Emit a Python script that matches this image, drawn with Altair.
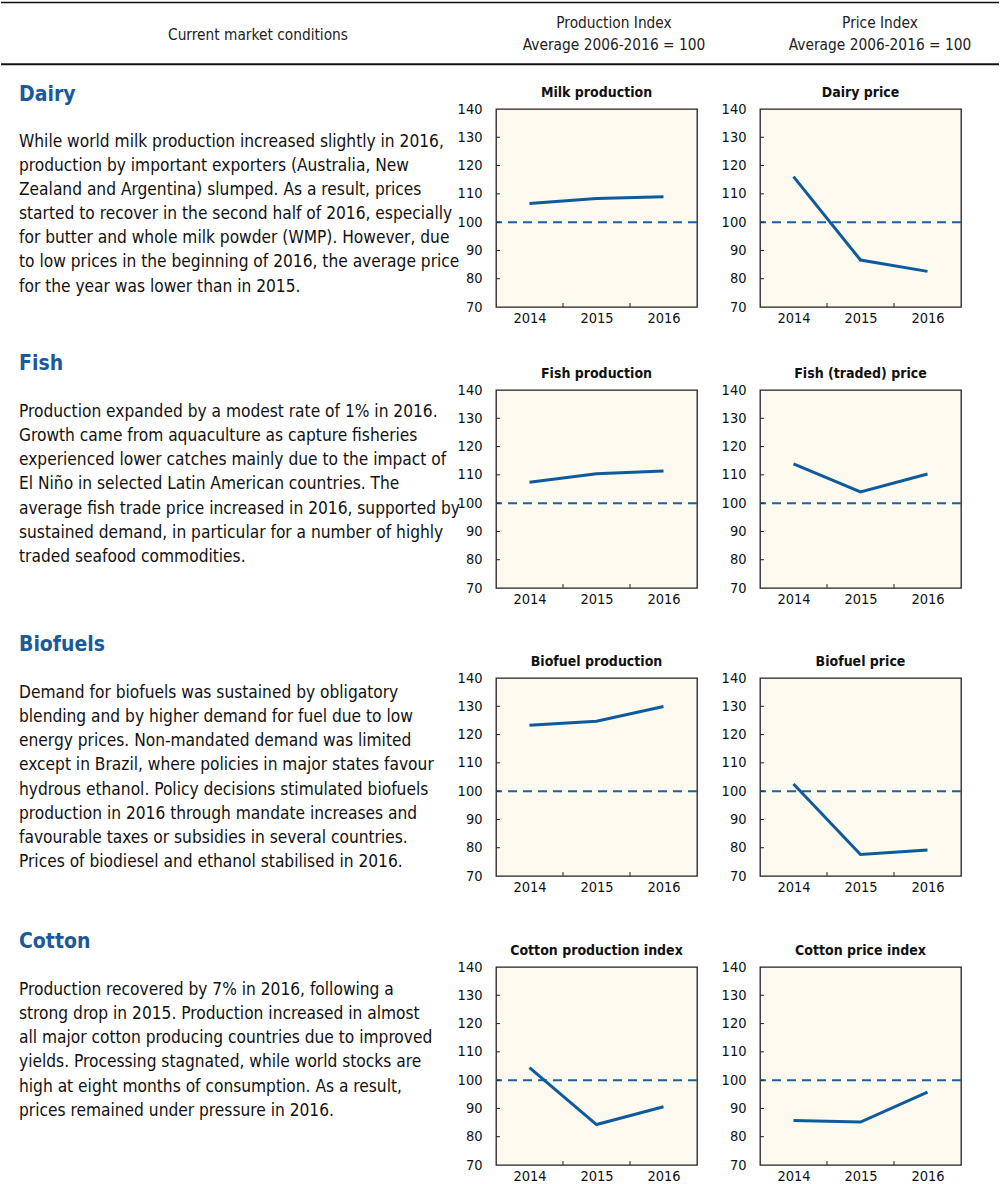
import altair as alt
import pandas as pd

# ---------------- data ----------------
years = [2014, 2015, 2016]
milk_production = [106.6, 108.4, 109.0]
dairy_price = [116.1, 86.6, 82.6]
fish_production = [107.4, 110.4, 111.4]
fish_price = [113.9, 104.0, 110.3]
biofuel_production = [123.3, 124.7, 129.9]
biofuel_price = [102.5, 77.6, 79.2]
cotton_production = [104.4, 84.3, 90.6]
cotton_price = [85.7, 85.2, 95.8]

y_ticks = [70, 80, 90, 100, 110, 120, 130, 140]
inner_y_ticks = [80, 90, 100, 110, 120, 130]
x_boundaries = [2014.5, 2015.5]
reference_level = [100]

header_left = "Current market conditions"
header_prod = "Production Index\nAverage 2006-2016 = 100"
header_price = "Price Index\nAverage 2006-2016 = 100"

sections = ["Dairy", "Fish", "Biofuels", "Cotton"]
prod_titles = ["Milk production", "Fish production", "Biofuel production", "Cotton production index"]
price_titles = ["Dairy price", "Fish (traded) price", "Biofuel price", "Cotton price index"]
prod_series = [milk_production, fish_production, biofuel_production, cotton_production]
price_series = [dairy_price, fish_price, biofuel_price, cotton_price]

paragraphs = [
    [
        "While world milk production increased slightly in 2016,",
        "production by important exporters (Australia, New",
        "Zealand and Argentina) slumped. As a result, prices",
        "started to recover in the second half of 2016, especially",
        "for butter and whole milk powder (WMP). However, due",
        "to low prices in the beginning of 2016, the average price",
        "for the year was lower than in 2015.",
    ],
    [
        "Production expanded by a modest rate of 1% in 2016.",
        "Growth came from aquaculture as capture fisheries",
        "experienced lower catches mainly due to the impact of",
        "El Niño in selected Latin American countries. The",
        "average fish trade price increased in 2016, supported by",
        "sustained demand, in particular for a number of highly",
        "traded seafood commodities.",
    ],
    [
        "Demand for biofuels was sustained by obligatory",
        "blending and by higher demand for fuel due to low",
        "energy prices. Non-mandated demand was limited",
        "except in Brazil, where policies in major states favour",
        "hydrous ethanol. Policy decisions stimulated biofuels",
        "production in 2016 through mandate increases and",
        "favourable taxes or subsidies in several countries.",
        "Prices of biodiesel and ethanol stabilised in 2016.",
    ],
    [
        "Production recovered by 7% in 2016, following a",
        "strong drop in 2015. Production increased in almost",
        "all major cotton producing countries due to improved",
        "yields. Processing stagnated, while world stocks are",
        "high at eight months of consumption. As a result,",
        "prices remained under pressure in 2016.",
    ],
]

# ---------------- layout / style ----------------
FONT = "DejaVu Sans Condensed, Liberation Sans Narrow, Roboto Condensed, sans-serif"
BLUE = "#1b5a99"
LINE = "#0f5a9c"
DASH = "#1f5f9d"
BG = "#fcf9ef"
INK = "#111111"

PW, PH = 201, 198
TEXT_W = 432
row_heights = [280.7, 288, 289, 198]
title_dy = [-8.3, -19.7, -26.7, -18.7]
para_dy = [37.7, 27, 20, 28]

x_enc = alt.X(
    "year:Q",
    scale=alt.Scale(domain=[2013.5, 2016.5], nice=False, zero=False),
    axis=alt.Axis(values=years, format="d", ticks=False, domain=False, grid=False,
                  labelFontSize=14.5, labelFont=FONT, labelColor=INK, labelPadding=4,
                  labelFlush=False, title=None),
)
y_enc = alt.Y(
    "value:Q",
    scale=alt.Scale(domain=[70, 140], nice=False, zero=False),
    axis=alt.Axis(values=y_ticks, ticks=False, domain=False, grid=False,
                  labelFontSize=14.5, labelFont=FONT, labelColor=INK, labelPadding=14,
                  title=None),
)


def line_panel(title, values):
    df = pd.DataFrame({"year": years, "value": values})
    ref = alt.Chart(pd.DataFrame({"value": reference_level})).mark_rule(
        color=DASH, strokeWidth=2, strokeDash=[9, 6]
    ).encode(y=y_enc)
    line = alt.Chart(df).mark_line(color=LINE, strokeWidth=3).encode(x=x_enc, y=y_enc)
    ytk = alt.Chart(pd.DataFrame({"value": inner_y_ticks})).mark_rule(
        color="#222222", strokeWidth=1
    ).encode(y=y_enc, x=alt.value(0), x2=alt.value(4))
    xtk = alt.Chart(pd.DataFrame({"year": x_boundaries})).mark_rule(
        color="#222222", strokeWidth=1
    ).encode(x=x_enc, y=alt.value(PH), y2=alt.value(PH - 4))
    return alt.layer(ref, line, ytk, xtk).properties(
        width=PW,
        height=PH,
        title=alt.TitleParams(title, font=FONT, fontSize=14, fontWeight="bold",
                              anchor="middle", offset=1, color=INK),
        view=alt.ViewBackground(fill=BG, stroke="#222222", strokeWidth=1.3),
    )


def text_panel(i):
    layers = []
    layers.append(
        alt.Chart(pd.DataFrame({"t": [sections[i]]})).mark_text(
            align="left", baseline="alphabetic", font=FONT, fontSize=21,
            fontWeight="bold", color=BLUE
        ).encode(x=alt.value(18), y=alt.value(title_dy[i]), text="t:N")
    )
    layers.append(
        alt.Chart(pd.DataFrame({"t": ["\n".join(paragraphs[i])]})).mark_text(
            align="left", baseline="alphabetic", font=FONT, fontSize=17.2,
            lineBreak="\n", lineHeight=24.15, color=INK
        ).encode(x=alt.value(18), y=alt.value(para_dy[i]), text="t:N")
    )
    if i == 0:
        one = pd.DataFrame({"t": [header_left]})
        layers.append(
            alt.Chart(pd.DataFrame({"k": [0]})).mark_rule(color=INK, strokeWidth=1.5)
            .encode(x=alt.value(0), x2=alt.value(998), y=alt.value(-106.6))
        )
        layers.append(
            alt.Chart(pd.DataFrame({"k": [0]})).mark_rule(color=INK, strokeWidth=2)
            .encode(x=alt.value(0), x2=alt.value(998), y=alt.value(-44.8))
        )
        layers.append(
            alt.Chart(one).mark_text(align="center", baseline="alphabetic", font=FONT,
                                     fontSize=15.3, color="#222222")
            .encode(x=alt.value(257), y=alt.value(-69.5), text="t:N")
        )
        layers.append(
            alt.Chart(pd.DataFrame({"t": [header_prod]})).mark_text(
                align="center", baseline="alphabetic", font=FONT, fontSize=15.3,
                lineBreak="\n", lineHeight=22, color="#222222")
            .encode(x=alt.value(613), y=alt.value(-80.8), text="t:N")
        )
        layers.append(
            alt.Chart(pd.DataFrame({"t": [header_price]})).mark_text(
                align="center", baseline="alphabetic", font=FONT, fontSize=15.3,
                lineBreak="\n", lineHeight=22, color="#222222")
            .encode(x=alt.value(879), y=alt.value(-80.8), text="t:N")
        )
    return alt.layer(*layers).properties(width=TEXT_W, height=row_heights[i])


panels = []
for i in range(4):
    panels.append(text_panel(i))
    panels.append(line_panel(prod_titles[i], prod_series[i]))
    panels.append(line_panel(price_titles[i], price_series[i]))

chart = alt.concat(
    *panels,
    columns=3,
    spacing={"row": 0, "column": 63},
    bounds="flush",
    align="each",
).properties(
    padding={"left": 0, "top": 1, "right": 0, "bottom": 0}
).configure_view(strokeWidth=0)

chart.save("out.html", embed_options={"renderer": "svg", "actions": False})
